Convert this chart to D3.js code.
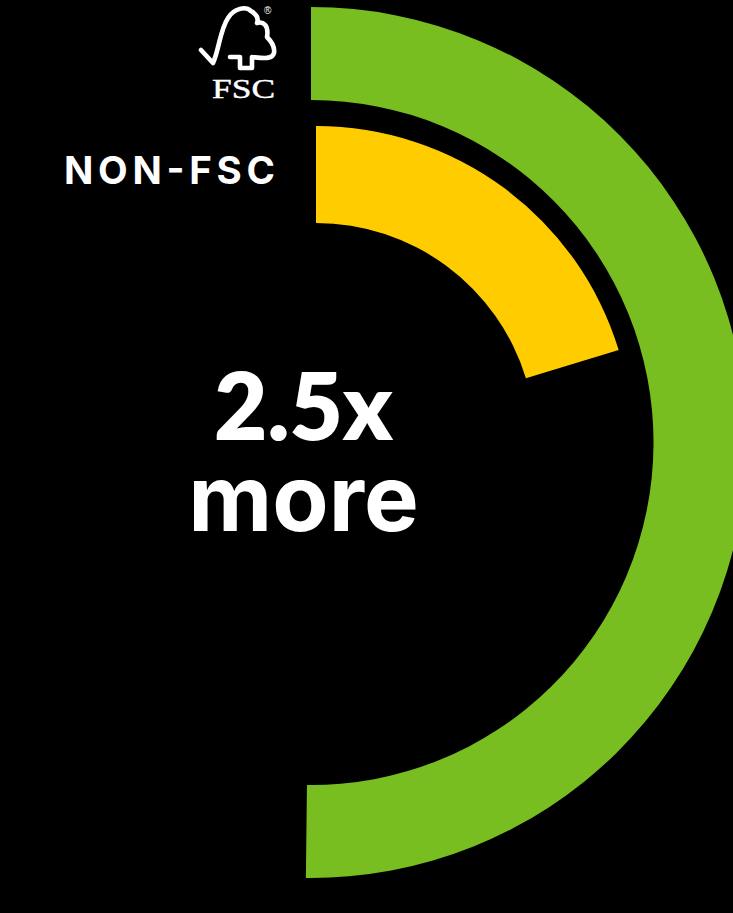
<!DOCTYPE html>
<html><head><meta charset="utf-8"><script src="https://cdn.jsdelivr.net/npm/d3@7"></script>
<style>html,body{margin:0;background:#000;overflow:hidden}</style></head><body><svg id="c" width="733" height="913"></svg>
<script>
const categories=["FSC","NON-FSC"];
const values=[2.475,1];
const headline=["2.5x","more"];
const colors=["#78be20","#ffcc00"];
const svg=d3.select("#c");
svg.append("rect").attr("width",733).attr("height",913).attr("fill","#000");
const rings=[{cx:311,cy:442.5,r0:342.5,r1:435.5},{cx:316,cy:442.5,r0:219.5,r1:316.5}];
const angle=d3.scaleLinear().domain([0,1]).range([0,73*Math.PI/180]);
rings.forEach((a,i)=>{
 svg.append("path").attr("transform",`translate(${a.cx},${a.cy})`)
  .attr("d",d3.arc().innerRadius(a.r0).outerRadius(a.r1).startAngle(0).endAngle(angle(values[i]))())
  .attr("fill",colors[i]);
});
const font="Inter, Lato, sans-serif";
svg.append("text").attr("x",64).attr("y",184).attr("fill","#fff")
 .attr("font-family",font).attr("font-weight",700).attr("font-size",38.5)
 .attr("textLength",211).text(categories[1]);
svg.append("text").attr("x",303.5).attr("y",440).attr("text-anchor","middle").attr("fill","#fff")
 .attr("font-family","Lato, sans-serif").attr("font-weight",800).attr("font-size",92).text(headline[0]);
svg.append("text").attr("x",303.5).attr("y",531).attr("text-anchor","middle").attr("fill","#fff")
 .attr("font-family",font).attr("font-weight",700).attr("font-size",92).text(headline[1]);
svg.append("text").attr("x",212).attr("y",98).attr("fill","#fff").attr("stroke","#fff").attr("stroke-width",0.4)
 .attr("font-family","'Liberation Serif',serif").attr("font-size",27)
 .attr("textLength",63).attr("lengthAdjust","spacingAndGlyphs").text(categories[0]);
svg.append("text").attr("x",264).attr("y",14).attr("fill","#fff")
 .attr("font-family","'Liberation Sans',sans-serif").attr("font-size",10).text("®");
const logo=d3.path();
logo.moveTo(201,50);logo.lineTo(213,63);
logo.bezierCurveTo(219,50,220,30,228,18);
logo.bezierCurveTo(234,8,246,6,251,11);
logo.bezierCurveTo(256,14,259,18,257,23);
logo.bezierCurveTo(263,21,269,25,267,37);
logo.bezierCurveTo(272,42,275,47,274,53);
logo.bezierCurveTo(272,60,262,58,252,57);
logo.lineTo(252,68);logo.lineTo(240,68);logo.lineTo(240,57);logo.lineTo(230,57);
svg.append("path").attr("fill","none").attr("stroke","#fff").attr("stroke-width",4.6)
 .attr("stroke-linejoin","round").attr("stroke-linecap","round").attr("d",logo.toString());
</script></body></html>
